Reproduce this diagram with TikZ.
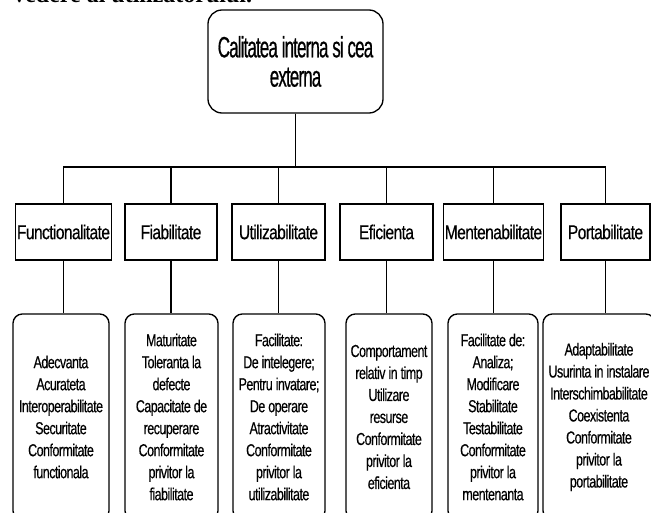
\documentclass[tikz,border=0pt]{standalone}
\usepackage{fontspec}
\usetikzlibrary{calc}
\setmainfont{Liberation Sans}
\newfontfamily\rootfont[FakeStretch=0.58, LetterSpace=-3, FakeBold=0.5]{Liberation Sans}
\newfontfamily\catfont[FakeStretch=0.78, LetterSpace=-3, FakeBold=0.4]{Liberation Sans}
\newfontfamily\listfont[FakeStretch=0.72, LetterSpace=-3, FakeBold=0.4]{Liberation Sans}
\newfontfamily\pagefont{Liberation Serif}
\definecolor{ink}{HTML}{000000}
\tikzset{
  rootbox/.style={rectangle, rounded corners=10.5pt, draw=ink, line width=1pt,
                  fill=white, text=ink, align=center, inner sep=1pt,
                  font=\rootfont\fontsize{22pt}{22pt}\selectfont,
                  minimum width=131.25pt, minimum height=77.25pt},
  catbox/.style={rectangle, draw=ink, line width=1pt, fill=white, text=ink,
                 align=center, inner sep=1pt,
                 font=\catfont\fontsize{15pt}{16pt}\selectfont,
                 minimum height=42pt},
  listbox/.style={rectangle, rounded corners=7pt, draw=ink, line width=1pt,
                  fill=white, text=ink, align=center, inner sep=1pt,
                  font=\listfont\fontsize{13pt}{16.5pt}\selectfont,
                  minimum height=154.5pt},
  link/.style={draw=ink, line width=1pt},
}

\begin{document}
\begin{tikzpicture}[x=0.75pt, y=-0.75pt]
\useasboundingbox (0,0) rectangle (651,513);
\clip (0,0) rectangle (651,513);

% --- end of the text line above the figure ---
\node[anchor=base west, inner sep=0pt, font=\pagefont\bfseries\fontsize{18pt}{20pt}\selectfont]
  (pageline) at (13,3) {vedere al utilizatorului.};

% --- root ---
\node[rootbox] (root) at (295.5,61.5) {Calitatea interna si cea\\ externa};
\coordinate (bus) at (295.5,167);

% --- characteristics ---
\node[catbox, minimum width=69.75pt] (func) at (63.5,232)  {Functionalitate};
\node[catbox, minimum width=69pt]    (fiab) at (171,232)   {Fiabilitate};
\node[catbox, minimum width=69.75pt] (util) at (278.5,232) {Utilizabilitate};
\node[catbox, minimum width=69.75pt] (efic) at (386.5,232) {Eficienta};
\node[catbox, minimum width=72.75pt] (ment) at (493.5,232) {Mentenabilitate};
\node[catbox, minimum width=66.75pt] (port) at (605.5,232) {Portabilitate};

% --- subcharacteristics ---
\node[listbox, minimum width=72pt]    (func-list) at (61,417)
  {Adecvanta\\ Acurateta\\ Interoperabilitate\\ Securitate\\ Conformitate\\ functionala};
\node[listbox, minimum width=69.75pt] (fiab-list) at (171.5,417)
  {Maturitate\\ Toleranta la\\ defecte\\ Capacitate de\\ recuperare\\ Conformitate\\ privitor la\\ fiabilitate};
\node[listbox, minimum width=69pt]    (util-list) at (279,417)
  {Facilitate:\\ De intelegere;\\ Pentru invatare;\\ De operare\\ Atractivitate\\ Conformitate\\ privitor la\\ utilizabilitate};
\node[listbox, minimum width=64.5pt]  (efic-list) at (389,417)
  {Comportament\\ relativ in timp\\ Utilizare\\ resurse\\ Conformitate\\ privitor la\\ eficienta};
\node[listbox, minimum width=67.5pt]  (ment-list) at (493,417)
  {Facilitate de:\\ Analiza;\\ Modificare\\ Stabilitate\\ Testabilitate\\ Conformitate\\ privitor la\\ mentenanta};
\node[listbox, minimum width=84pt]    (port-list) at (599,417)
  {Adaptabilitate\\ Usurinta in instalare\\ Interschimbabilitate\\ Coexistenta\\ Conformitate\\ privitor la\\ portabilitate};

% --- connectors ---
\foreach \c in {func,fiab,util,efic,ment,port}{
  \draw[link] (root.south) |- (bus -| \c.north) -- (\c.north);
  \draw[link] (\c.south) -- (\c.south |- \c-list.north);
}

\end{tikzpicture}
\end{document}
